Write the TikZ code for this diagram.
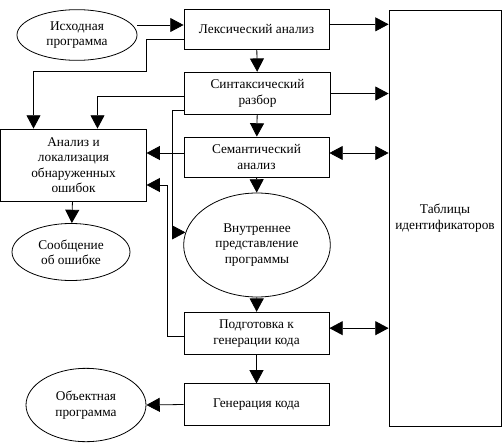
\documentclass[tikz,border=0pt]{standalone}
\usepackage{fontspec}
\setmainfont{Liberation Serif}
\usetikzlibrary{arrows.meta,shapes.geometric}

\begin{document}
\begin{tikzpicture}[x=0.75pt,y=-0.75pt,
    font=\fontsize{10}{11.5}\selectfont,
    line width=0.6pt,
    blk/.style={draw,rectangle,align=center,inner sep=0pt,minimum width=108.75pt,minimum height=30pt},
    oval/.style={draw,ellipse,align=center,inner sep=0pt},
    arr/.style={-{Triangle[length=10pt,width=10.5pt]}},
    dbl/.style={{Triangle[length=10pt,width=10.5pt]}-{Triangle[length=10pt,width=10.5pt]}}]
  \useasboundingbox (0,0) rectangle (503,446);

  % Main chain of phases
  \node[blk] (lex) at (256.5,29) {Лексический анализ};
  \node[blk,minimum width=110pt,minimum height=32pt] (synt) at (257.5,93.5) {Синтаксический\\разбор};
  \node[blk] (sem) at (256.5,157) {Семантический\\анализ};
  \node[oval,minimum width=110pt,minimum height=78pt] (inner) at (257,245) {Внутреннее\\представление\\программы};
  \node[blk,minimum height=32pt] (podg) at (256.5,333.5) {Подготовка к\\генерации кода};
  \node[blk,minimum height=31pt] (gen) at (256.5,404.5) {Генерация кода};

  % Source, errors, result
  \node[oval,minimum width=90pt,minimum height=38pt] (src) at (77,35) {Исходная\\программа};
  \node[blk,minimum width=109pt,minimum height=54pt] (anal) at (73.5,165) {Анализ и\\локализация\\обнаруженных\\ошибок};
  \node[oval,minimum width=88.5pt,minimum height=42.75pt] (msg) at (71,252) {Сообщение\\об ошибке};
  \node[oval,minimum width=90pt,minimum height=55pt] (obj) at (86,405) {Объектная\\программа};

  % Identifier tables
  \node[blk,minimum width=84pt,minimum height=312pt] (tab) at (445,218) {Таблицы\\идентификаторов};

  % Flow down the chain
  \draw[arr] (src.east |- lex.west) ++(0,-4) -- ([yshift=3pt]lex.west);
  \draw[arr] (lex) -- (synt);
  \draw[arr] (synt) -- (sem);
  \draw[arr] (sem) -- (inner);
  \draw[arr] (inner) -- (podg);
  \draw[arr] (podg) -- (gen);
  \draw[arr] (gen.west) -- (obj.east);

  % Links to the tables
  \draw[arr] ([yshift=3.5pt]lex.east) -- ([yshift=3.5pt]lex.east -| tab.west);
  \draw[arr] (synt.east) -- (synt.east -| tab.west);
  \draw[dbl] ([yshift=3pt]sem.east) -- ([yshift=3pt]sem.east -| tab.west);
  \draw[dbl] ([yshift=4pt]podg.east) -- ([yshift=4pt]podg.east -| tab.west);

  % Error reports
  \draw[arr] ([yshift=-8pt]lex.west) -| (146,71) -| ([xshift=-30pt]anal.north);
  \draw[arr] ([yshift=-2.5pt]synt.west) -| ([xshift=18pt]anal.north);
  \draw[arr] ([yshift=3pt]sem.west) -- ([yshift=3pt]sem.west -| anal.east);
  \draw[arr] ([yshift=-2pt]podg.west) -- ++(-16,0) |- ([yshift=-15pt]anal.east);
  \draw[arr] (anal) -- (msg);

  % Syntax tree to the internal form
  \draw[arr] ([yshift=-13pt]synt.west) -- ++(-11,0) |- (inner.170);
\end{tikzpicture}
\end{document}
